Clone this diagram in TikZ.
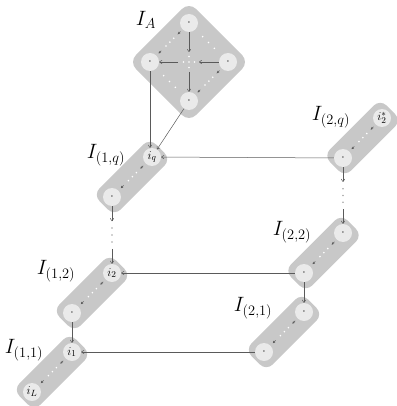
\documentclass[tikz,border=0pt]{standalone}
\usetikzlibrary{calc,arrows.meta}
\definecolor{boxgray}{RGB}{200,200,200}
\definecolor{circgray}{RGB}{234,234,234}
\definecolor{linegray}{RGB}{90,90,90}
\definecolor{dotgray}{RGB}{165,165,165}
\begin{document}
\begin{tikzpicture}[x=1pt,y=-1pt,
  boxshape/.style={fill=boxgray,draw=none,inner sep=0pt,rotate=45},
  chainbox/.style={boxshape,minimum width=80pt,minimum height=30pt,rounded corners=9pt},
  cnode/.style={circle,fill=circgray,minimum size=18pt,inner sep=0pt,font=\fontsize{13}{14}\selectfont},
  lbl/.style={font=\fontsize{21}{24}\selectfont},
  conn/.style={draw=linegray,line width=0.5pt,-{To[length=3pt,width=4pt]}},
  tiny/.style={draw=linegray,line width=0.45pt,-{Stealth[length=2.4pt,width=2.6pt]}},
  wdot/.style={fill=white},
  gdot/.style={fill=dotgray}
]
\useasboundingbox (0,0) rectangle (396,406);

% ---------- boxes ----------
\node[boxshape,minimum width=85pt,minimum height=85pt,rounded corners=10pt] (IA) at (189,62) {};
\node[chainbox] (C1q) at (132,177) {};
\node[chainbox] (C12) at (92,293) {};
\node[chainbox] (C11) at (52,372) {};
\node[chainbox] (C2q) at (362.5,138) {};
\node[chainbox] (C22) at (323.5,253) {};
\node[chainbox] (C21) at (284,332) {};

% ---------- I_A circles ----------
\node[cnode] (IAt) at (189,23) {$\cdot$};
\node[cnode] (IAl) at (150,62) {$\cdot$};
\node[cnode] (IAr) at (228,62) {$\cdot$};
\node[cnode] (IAb) at (189,101) {$\cdot$};
\coordinate (IAc) at (189,62);
\coordinate (cT) at (189,52);
\coordinate (cR) at (199,62);
\coordinate (cL) at (178,62);
\coordinate (cB) at (189,72);
\foreach \p in {(183.5,62),(189,62),(194.5,62),(189,56.5),(189,67.5)} \fill[wdot] \p circle (0.9pt);
\draw[conn] (IAt) -- (cT);
\draw[conn] (IAr) -- (cR);
\draw[conn] (cL) -- (IAl);
\draw[conn] (cB) -- (IAb);

% ---------- chain circles ----------
\node[cnode] (iq) at (152,157) {$i_q$};
\node[cnode] (Bq) at (112,197) {$\cdot$};
\node[cnode] (i2) at (112,273) {$i_2$};
\node[cnode] (B12) at (72,313) {$\cdot$};
\node[cnode] (i1) at (72,352) {$i_1$};
\node[cnode] (iL) at (32,392) {$i_L$};
\node[cnode] (is) at (382,118) {$i_2^*$};
\node[cnode] (B2q) at (343,158) {$\cdot$};
\node[cnode] (A22) at (343,233) {$\cdot$};
\node[cnode] (B22) at (304,273) {$\cdot$};
\node[cnode] (A21) at (304,312) {$\cdot$};
\node[cnode] (B21) at (264,352) {$\cdot$};

% ---------- internal dotted edges with small arrows ----------
\foreach \a/\b in {IAt/IAl,IAr/IAb,iq/Bq,i2/B12,i1/iL,is/B2q,A22/B22,A21/B21}{
  \draw[tiny] ($(\a.center)!0.22!(\b.center)$) -- ($(\a.center)!0.29!(\b.center)$);
  \draw[tiny] ($(\a.center)!0.71!(\b.center)$) -- ($(\a.center)!0.78!(\b.center)$);
  \foreach \t in {0.39,0.49,0.59} \fill[wdot] ($(\a.center)!\t!(\b.center)$) circle (0.9pt);
}
\foreach \a/\b in {IAt/IAr,IAl/IAb}{
  \foreach \t in {0.35,0.5,0.65} \fill[wdot] ($(\a.center)!\t!(\b.center)$) circle (0.9pt);
}

% ---------- labels ----------
\node[lbl] (LA) at (146,20) {$I_A$};
\node[lbl] (L1q) at (106,155) {$I_{(1,q)}$};
\node[lbl] (L2q) at (331,117) {$I_{(2,q)}$};
\node[lbl] (L22) at (292,232) {$I_{(2,2)}$};
\node[lbl] (L21) at (253,308) {$I_{(2,1)}$};
\node[lbl] (L12) at (56,271) {$I_{(1,2)}$};
\node[lbl] (L11) at (24,350) {$I_{(1,1)}$};

% ---------- connectors ----------
\draw[conn] (IAl.south) -- (IAl.south |- iq.north);
\draw[conn] (IAb) -- (iq);
\draw[conn] (B2q) -- (iq);
\draw[conn] (B22) -- (i2);
\draw[conn] (B21) -- (i1);
\draw[conn] (B12) -- (i1);
\draw[conn] (B22) -- (A21);

% dotted vertical connectors
\foreach \p/\q/\n in {Bq/i2/L,B2q/A22/R}{
  \coordinate (\n1) at ($(\p.south)!0.26!(\q.north)$);
  \coordinate (\n2) at ($(\p.south)!0.74!(\q.north)$);
  \draw[conn] (\p) -- (\n1);
  \draw[conn] (\n2) -- (\q);
  \foreach \t in {0.38,0.5,0.62} \fill[gdot] ($(\p.south)!\t!(\q.north)$) circle (0.9pt);
}
\end{tikzpicture}
\end{document}
